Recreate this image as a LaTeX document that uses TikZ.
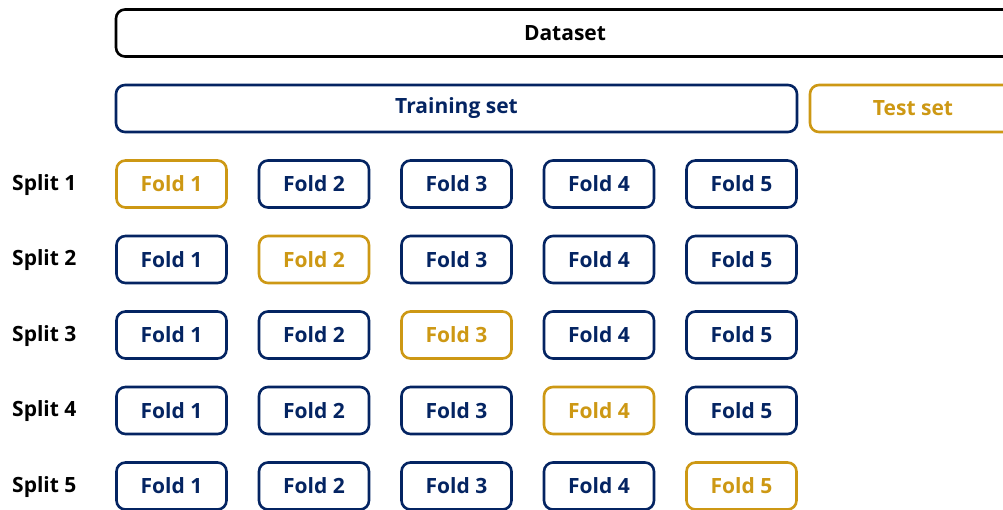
\documentclass[tikz,border=0pt]{standalone}
\usepackage{fontspec}
\setmainfont{Open Sans}
\definecolor{navy}{RGB}{4,36,98}
\definecolor{gold}{RGB}{205,152,20}
\begin{document}
\begin{tikzpicture}[x=1pt,y=-1pt,
  box/.style={draw=navy,text=navy,line width=2.6pt,rounded corners=9pt,font=\fontsize{21}{24}\selectfont\bfseries,inner sep=0pt,minimum height=47pt},
  foldbox/.style={box,minimum width=110pt},
  hl/.style={draw=gold,text=gold},
  splitlabel/.style={font=\fontsize{21}{24}\selectfont\bfseries,anchor=west,inner sep=0pt}]
\useasboundingbox (0,0) rectangle (1003,509);
\clip (0,0) rectangle (1003,509);
\node[box,draw=black,text=black,minimum width=898pt] (ds) at (565,33) {Dataset};
\node[box,minimum width=681pt] (train) at (456.5,108.5) {Training set};
\node[box,hl,minimum width=206pt] (test) at (913,108.5) {Test set};
\foreach \r/\y in {1/184,2/259.5,3/335,4/410.5,5/486}{
  \node[splitlabel] (s\r) at (12,\y+1) {Split \r};
  \foreach \c/\x in {1/171.5,2/314,3/456.5,4/599,5/741.5}{
    \ifnum\r=\c
      \node[foldbox,hl] (f\r\c) at (\x,\y) {Fold \c};
    \else
      \node[foldbox] (f\r\c) at (\x,\y) {Fold \c};
    \fi
  }
}
\end{tikzpicture}
\end{document}
